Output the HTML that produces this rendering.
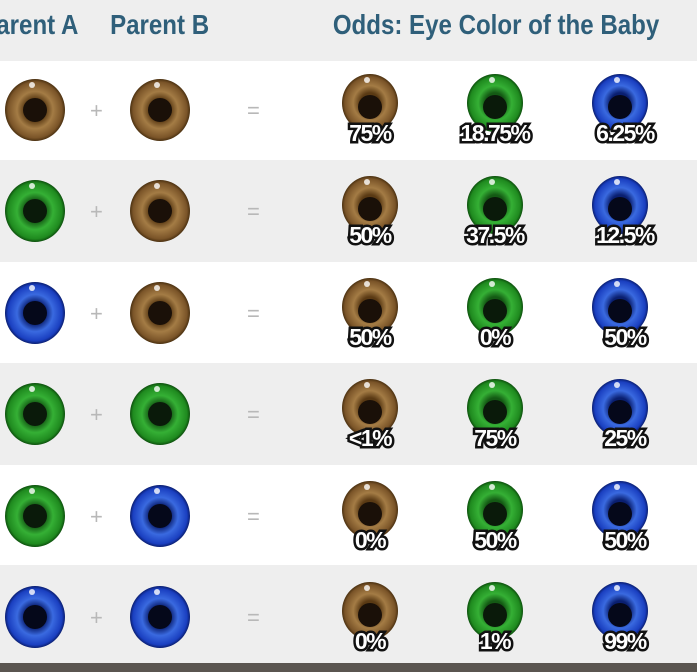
<!DOCTYPE html>
<html><head><style>
body{margin:0;width:697px;height:672px;overflow:hidden;background:#eeeeee}
svg{display:block}
.h{font-family:"Liberation Sans",sans-serif;font-weight:bold;font-size:28px;fill:#2f5f7a}
.p{font-family:"Liberation Sans",sans-serif;font-weight:bold;font-size:23px;fill:#fff;stroke:#111;stroke-width:5;paint-order:stroke;letter-spacing:-1.5px}
.op{font-family:"Liberation Sans",sans-serif;font-size:22px;fill:#b8b8b8}
</style></head><body>
<svg width="697" height="672" viewBox="0 0 697 672">
<defs>
<radialGradient id="br"><stop offset="0.35" stop-color="#5a3a14"/><stop offset="0.6" stop-color="#a47c45"/><stop offset="0.9" stop-color="#7a5428"/><stop offset="1" stop-color="#4a3010"/></radialGradient>
<radialGradient id="gr"><stop offset="0.35" stop-color="#145a14"/><stop offset="0.6" stop-color="#35b035"/><stop offset="0.9" stop-color="#1f8a1f"/><stop offset="1" stop-color="#0d4f0d"/></radialGradient>
<radialGradient id="bl"><stop offset="0.35" stop-color="#0a1f70"/><stop offset="0.6" stop-color="#3a6ae0"/><stop offset="0.9" stop-color="#1a3fc0"/><stop offset="1" stop-color="#0a1e70"/></radialGradient>
<g id="eb"><ellipse rx="30" ry="31" fill="url(#br)"/><circle r="12" fill="#1a1008"/><circle cx="-3" cy="-25" r="3" fill="#fff" opacity=".8"/></g>
<g id="eg"><ellipse rx="30" ry="31" fill="url(#gr)"/><circle r="12" fill="#0a1a0a"/><circle cx="-3" cy="-25" r="3" fill="#fff" opacity=".8"/></g>
<g id="el"><ellipse rx="30" ry="31" fill="url(#bl)"/><circle r="12" fill="#05081a"/><circle cx="-3" cy="-25" r="3" fill="#fff" opacity=".8"/></g>
<g id="cb"><ellipse rx="28" ry="29" fill="url(#br)"/><circle cy="4" r="12" fill="#1a1008"/><circle cx="-3" cy="-23" r="3" fill="#fff" opacity=".8"/></g>
<g id="cg"><ellipse rx="28" ry="29" fill="url(#gr)"/><circle cy="4" r="12" fill="#0a1a0a"/><circle cx="-3" cy="-23" r="3" fill="#fff" opacity=".8"/></g>
<g id="cl"><ellipse rx="28" ry="29" fill="url(#bl)"/><circle cy="4" r="12" fill="#05081a"/><circle cx="-3" cy="-23" r="3" fill="#fff" opacity=".8"/></g>
</defs>
<rect x="0" y="61" width="697" height="99" fill="#fff"/>
<rect x="0" y="262" width="697" height="101" fill="#fff"/>
<rect x="0" y="465" width="697" height="100" fill="#fff"/>
<rect x="0" y="663" width="697" height="9" fill="#5a5550"/>
<g transform="scale(0.86,1)">
<text class="h" x="-23" y="34">Parent A</text>
<text class="h" x="128" y="34">Parent B</text>
<text class="h" x="387" y="34">Odds: Eye Color of the Baby</text>
</g>
<g>
<use href="#eb" x="35" y="110"/><text class="op" x="90" y="118">+</text><use href="#eb" x="160" y="110"/><text class="op" x="247" y="118">=</text>
<use href="#cb" x="370" y="103"/><use href="#cg" x="495" y="103"/><use href="#cl" x="620" y="103"/>
<text class="p" x="370" y="141" text-anchor="middle">75%</text><text class="p" x="495" y="141" text-anchor="middle">18.75%</text><text class="p" x="625" y="141" text-anchor="middle">6.25%</text>

<use href="#eg" x="35" y="211"/><text class="op" x="90" y="219">+</text><use href="#eb" x="160" y="211"/><text class="op" x="247" y="219">=</text>
<use href="#cb" x="370" y="205"/><use href="#cg" x="495" y="205"/><use href="#cl" x="620" y="205"/>
<text class="p" x="370" y="243" text-anchor="middle">50%</text><text class="p" x="495" y="243" text-anchor="middle">37.5%</text><text class="p" x="625" y="243" text-anchor="middle">12.5%</text>

<use href="#el" x="35" y="313"/><text class="op" x="90" y="321">+</text><use href="#eb" x="160" y="313"/><text class="op" x="247" y="321">=</text>
<use href="#cb" x="370" y="307"/><use href="#cg" x="495" y="307"/><use href="#cl" x="620" y="307"/>
<text class="p" x="370" y="345" text-anchor="middle">50%</text><text class="p" x="495" y="345" text-anchor="middle">0%</text><text class="p" x="625" y="345" text-anchor="middle">50%</text>

<use href="#eg" x="35" y="414"/><text class="op" x="90" y="422">+</text><use href="#eg" x="160" y="414"/><text class="op" x="247" y="422">=</text>
<use href="#cb" x="370" y="408"/><use href="#cg" x="495" y="408"/><use href="#cl" x="620" y="408"/>
<text class="p" x="370" y="446" text-anchor="middle">&lt;1%</text><text class="p" x="495" y="446" text-anchor="middle">75%</text><text class="p" x="625" y="446" text-anchor="middle">25%</text>

<use href="#eg" x="35" y="516"/><text class="op" x="90" y="524">+</text><use href="#el" x="160" y="516"/><text class="op" x="247" y="524">=</text>
<use href="#cb" x="370" y="510"/><use href="#cg" x="495" y="510"/><use href="#cl" x="620" y="510"/>
<text class="p" x="370" y="548" text-anchor="middle">0%</text><text class="p" x="495" y="548" text-anchor="middle">50%</text><text class="p" x="625" y="548" text-anchor="middle">50%</text>

<use href="#el" x="35" y="617"/><text class="op" x="90" y="625">+</text><use href="#el" x="160" y="617"/><text class="op" x="247" y="625">=</text>
<use href="#cb" x="370" y="611"/><use href="#cg" x="495" y="611"/><use href="#cl" x="620" y="611"/>
<text class="p" x="370" y="649" text-anchor="middle">0%</text><text class="p" x="495" y="649" text-anchor="middle">1%</text><text class="p" x="625" y="649" text-anchor="middle">99%</text>
</g>
</svg>
</body></html>
